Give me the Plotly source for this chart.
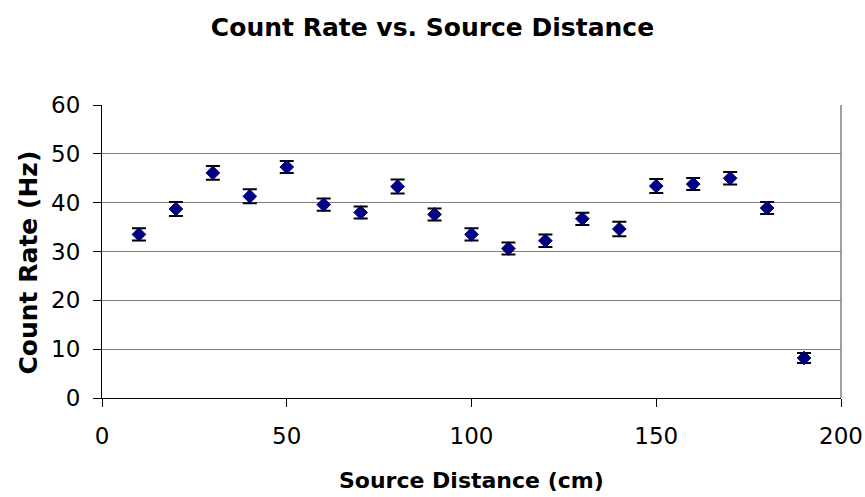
import plotly.graph_objects as go

distance_cm = [10, 20, 30, 40, 50, 60, 70, 80, 90, 100, 110, 120, 130, 140, 150, 160, 170, 180, 190]
count_rate_hz = [33.5, 38.7, 46.1, 41.3, 47.3, 39.6, 38.0, 43.3, 37.6, 33.5, 30.6, 32.2, 36.7, 34.6, 43.4, 43.8, 45.0, 38.9, 8.2]
rate_error_hz = [1.26, 1.43, 1.43, 1.43, 1.23, 1.23, 1.23, 1.43, 1.23, 1.26, 1.23, 1.26, 1.26, 1.47, 1.43, 1.23, 1.26, 1.23, 1.02]

x_ticks = [0, 50, 100, 150, 200]
y_ticks = [0, 10, 20, 30, 40, 50, 60]

FONT = "DejaVu Sans, Liberation Sans, Arial, sans-serif"
W, H = 865, 497
L, R, T, B = 102, 24, 105, 99

fig = go.Figure()
fig.add_trace(go.Scatter(
    x=distance_cm, y=count_rate_hz, mode="markers",
    marker=dict(symbol="diamond", size=10.5, color="#000080", line=dict(color="#000080", width=1)),
    error_y=dict(type="data", array=rate_error_hz, visible=True, color="black", thickness=2, width=7),
    showlegend=False,
))

fig.update_layout(
    width=W, height=H,
    paper_bgcolor="white", plot_bgcolor="white",
    margin=dict(l=L, r=R, t=T, b=B),
    font=dict(family=FONT, color="black"),
    title=dict(text="<b>Count Rate vs. Source Distance</b>", x=0.5, xanchor="center",
               y=1 - 27 / H, yanchor="middle", yref="container",
               font=dict(size=25, family=FONT, color="black")),
    xaxis=dict(range=[0, 200], tickvals=x_ticks, ticks="outside", ticklen=8, tickcolor="black",
               showline=True, linecolor="black", linewidth=1, showgrid=False, zeroline=False,
               tickfont=dict(size=23, family=FONT), ticklabelstandoff=9, automargin=False),
    yaxis=dict(range=[0, 60], tickvals=y_ticks, ticks="outside", ticklen=8, tickcolor="black",
               showline=True, linecolor="black", linewidth=1, showgrid=True, gridcolor="#808080",
               gridwidth=1, zeroline=False, automargin=False,
               tickfont=dict(size=23, family=FONT), ticklabelstandoff=8),
    shapes=[dict(type="line", xref="paper", yref="paper", x0=1, x1=1, y0=0, y1=1,
                 line=dict(color="#808080", width=1.5))],
    annotations=[
        dict(text="<b>Source Distance (cm)</b>", xref="paper", yref="paper",
             x=(471.5 - L) / (W - L - R), y=-(480 - (H - B)) / (H - T - B),
             xanchor="center", yanchor="middle", showarrow=False,
             font=dict(size=22, family=FONT, color="black")),
        dict(text="<b>Count Rate (Hz)</b>", xref="paper", yref="paper", textangle=-90,
             x=-(L - 27.5) / (W - L - R), y=((H - B) - 263) / (H - T - B),
             xanchor="center", yanchor="middle", showarrow=False,
             font=dict(size=25, family=FONT, color="black")),
    ],
)

fig.write_html("out.html", config={"displayModeBar": False},
               post_script="document.body.style.margin='0px';document.body.style.padding='0px';")
